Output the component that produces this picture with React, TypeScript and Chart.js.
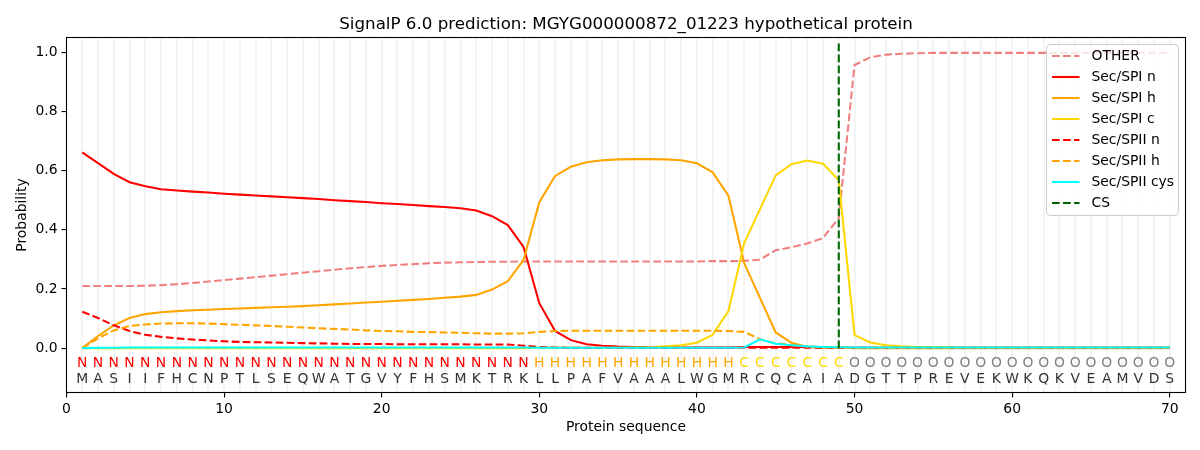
import { useEffect, useRef } from "react";
import { Chart, registerables } from "chart.js";
import type { ChartConfiguration, Plugin } from "chart.js";

Chart.register(...registerables);

// ====== SignalP 6.0 output, positions 1..70 ======
const TITLE = "SignalP 6.0 prediction: MGYG000000872_01223 hypothetical protein";
const SEQUENCE = "MASIIFHCNPTLSEQWATGVYFHSMKTRKLLPAFVAAALWGMRCQCAIADGTTPREVEKWKQKVEAMVDS".split("");
const REGIONS = "NNNNNNNNNNNNNNNNNNNNNNNNNNNNNHHHHHHHHHHHHHCCCCCCCOOOOOOOOOOOOOOOOOOOOO".split("");
const POSITIONS = SEQUENCE.map((_, i) => i + 1);

const OTHER = [
  0.21, 0.21, 0.21, 0.21, 0.211, 0.213, 0.216, 0.22, 0.225, 0.23,
  0.235, 0.24, 0.245, 0.25, 0.255, 0.26, 0.265, 0.27, 0.274, 0.278,
  0.281, 0.284, 0.287, 0.289, 0.29, 0.291, 0.292, 0.292, 0.293, 0.293,
  0.293, 0.293, 0.293, 0.293, 0.293, 0.293, 0.293, 0.293, 0.293, 0.293,
  0.294, 0.294, 0.295, 0.299, 0.331, 0.341, 0.354, 0.372, 0.44, 0.957,
  0.983, 0.992, 0.995, 0.997, 0.998, 0.998, 0.998, 0.998, 0.998, 0.998,
  0.998, 0.998, 0.998, 0.998, 0.998, 0.998, 0.998, 0.998, 0.998, 0.998,
];
const SPI_N = [
  0.662, 0.625, 0.589, 0.561, 0.547, 0.537, 0.533, 0.529, 0.526, 0.522,
  0.519, 0.516, 0.513, 0.51, 0.507, 0.504, 0.5, 0.497, 0.494, 0.49,
  0.487, 0.484, 0.48, 0.477, 0.473, 0.465, 0.446, 0.416, 0.342, 0.152,
  0.058, 0.027, 0.013, 0.008, 0.005, 0.004, 0.003, 0.002, 0.002, 0.002,
  0.002, 0.002, 0.004, 0.004, 0.004, 0.004, 0.004, 0.003, 0.002, 0.001,
  0.001, 0.001, 0.001, 0.001, 0.001, 0.001, 0.001, 0.001, 0.001, 0.001,
  0.001, 0.001, 0.001, 0.001, 0.001, 0.001, 0.001, 0.001, 0.001, 0.001,
];
const SPI_H = [
  0.0, 0.041, 0.077, 0.102, 0.115, 0.121, 0.125, 0.128, 0.13, 0.132,
  0.134, 0.136, 0.138, 0.14, 0.142, 0.145, 0.148, 0.151, 0.154, 0.157,
  0.16, 0.163, 0.166, 0.17, 0.174, 0.18, 0.198, 0.226, 0.298, 0.493,
  0.582, 0.613, 0.628, 0.635, 0.638, 0.639, 0.639, 0.638, 0.635, 0.625,
  0.594, 0.515, 0.287, 0.17, 0.053, 0.018, 0.005, 0.002, 0.001, 0.0,
  0.0, 0.0, 0.0, 0.0, 0.0, 0.0, 0.0, 0.0, 0.0, 0.0,
  0.0, 0.0, 0.0, 0.0, 0.0, 0.0, 0.0, 0.0, 0.0, 0.0,
];
const SPI_C = [
  0.0, 0.0, 0.0, 0.0, 0.0, 0.0, 0.0, 0.0, 0.0, 0.0,
  0.0, 0.0, 0.0, 0.0, 0.0, 0.0, 0.0, 0.0, 0.0, 0.0,
  0.0, 0.0, 0.0, 0.0, 0.0, 0.0, 0.0, 0.0, 0.0, 0.001,
  0.001, 0.001, 0.001, 0.001, 0.001, 0.002, 0.003, 0.006, 0.01, 0.018,
  0.045, 0.125, 0.355, 0.47, 0.584, 0.622, 0.634, 0.623, 0.568, 0.044,
  0.019, 0.01, 0.006, 0.004, 0.003, 0.002, 0.001, 0.001, 0.001, 0.001,
  0.001, 0.001, 0.001, 0.001, 0.001, 0.001, 0.001, 0.001, 0.001, 0.001,
];
const SPII_N = [
  0.123, 0.102, 0.077, 0.058, 0.045, 0.038, 0.033, 0.029, 0.026, 0.023,
  0.021, 0.02, 0.019, 0.018, 0.017, 0.016, 0.015, 0.014, 0.014, 0.014,
  0.013, 0.013, 0.013, 0.013, 0.013, 0.012, 0.012, 0.012, 0.008, 0.004,
  0.002, 0.001, 0.001, 0.001, 0.001, 0.001, 0.001, 0.001, 0.001, 0.001,
  0.001, 0.001, 0.001, 0.001, 0.001, 0.001, 0.001, 0.001, 0.001, 0.001,
  0.001, 0.001, 0.001, 0.001, 0.001, 0.001, 0.001, 0.001, 0.001, 0.001,
  0.001, 0.001, 0.001, 0.001, 0.001, 0.001, 0.001, 0.001, 0.001, 0.001,
];
const SPII_H = [
  0.0, 0.033, 0.06, 0.075, 0.08, 0.083, 0.084, 0.084, 0.083, 0.081,
  0.079, 0.077, 0.075, 0.072, 0.07, 0.067, 0.065, 0.063, 0.06, 0.058,
  0.057, 0.055, 0.054, 0.053, 0.052, 0.05, 0.049, 0.049, 0.05, 0.055,
  0.058, 0.059, 0.059, 0.059, 0.059, 0.059, 0.059, 0.059, 0.059, 0.059,
  0.059, 0.058, 0.055, 0.03, 0.016, 0.011, 0.006, 0.003, 0.002, 0.001,
  0.001, 0.001, 0.001, 0.001, 0.001, 0.001, 0.001, 0.001, 0.001, 0.001,
  0.001, 0.001, 0.001, 0.001, 0.001, 0.001, 0.001, 0.001, 0.001, 0.001,
];
const SPII_CYS = [
  0.0, 0.001, 0.001, 0.002, 0.002, 0.002, 0.002, 0.002, 0.002, 0.002,
  0.002, 0.002, 0.002, 0.002, 0.002, 0.002, 0.002, 0.002, 0.002, 0.002,
  0.002, 0.002, 0.002, 0.002, 0.002, 0.002, 0.002, 0.002, 0.002, 0.001,
  0.001, 0.001, 0.001, 0.001, 0.001, 0.001, 0.001, 0.001, 0.001, 0.001,
  0.001, 0.001, 0.002, 0.03, 0.015, 0.01, 0.006, 0.004, 0.003, 0.002,
  0.002, 0.002, 0.002, 0.002, 0.002, 0.002, 0.002, 0.002, 0.002, 0.002,
  0.002, 0.002, 0.002, 0.002, 0.002, 0.002, 0.002, 0.002, 0.002, 0.002,
];
const CS_POS = 49;
const CS_SPAN = [0, 1.035];

const X_TICKS = [0, 10, 20, 30, 40, 50, 60, 70];
const Y_TICKS = [0, 0.2, 0.4, 0.6, 0.8, 1.0];
const REGION_Y = -0.064; // baseline of N/H/C/O row
const SEQ_Y = -0.117;    // baseline of amino-acid row

const REGION_COLOR: Record<string, string> = { N: "#ff0000", H: "#ffa500", C: "#ffd700", O: "#808080" };
const FONT = "DejaVu Sans";
const DASH = [7.7, 3.3];

const SERIES = [
  { label: "OTHER", data: OTHER, color: "#f08080", dashed: true },
  { label: "Sec/SPI n", data: SPI_N, color: "#ff0000", dashed: false },
  { label: "Sec/SPI h", data: SPI_H, color: "#ffa500", dashed: false },
  { label: "Sec/SPI c", data: SPI_C, color: "#ffd700", dashed: false },
  { label: "Sec/SPII n", data: SPII_N, color: "#ff0000", dashed: true },
  { label: "Sec/SPII h", data: SPII_H, color: "#ffa500", dashed: true },
  { label: "Sec/SPII cys", data: SPII_CYS, color: "#00ffff", dashed: false },
];

const LEGEND = [
  ...SERIES.map((s) => ({ label: s.label, color: s.color, dashed: s.dashed })),
  { label: "CS", color: "#006400", dashed: true },
];

// grid, sequence letters, frame, title, axis titles and legend
const decor: Plugin<"line"> = {
  id: "decor",
  beforeDatasetsDraw(chart) {
    const { ctx, chartArea: a, scales } = chart;
    ctx.save();
    ctx.strokeStyle = "#f4f4f4";
    ctx.lineWidth = 2;
    for (const p of POSITIONS) {
      const px = Math.round(scales.x.getPixelForValue(p));
      ctx.beginPath();
      ctx.moveTo(px, a.top);
      ctx.lineTo(px, a.bottom);
      ctx.stroke();
    }
    ctx.restore();
  },
  afterDatasetsDraw(chart) {
    const { ctx, chartArea: a, scales } = chart;
    ctx.save();
    ctx.font = `13.9px "${FONT}"`;
    ctx.textAlign = "center";
    ctx.textBaseline = "alphabetic";
    const ry = scales.y.getPixelForValue(REGION_Y);
    const sy = scales.y.getPixelForValue(SEQ_Y);
    POSITIONS.forEach((p, i) => {
      const px = scales.x.getPixelForValue(p);
      ctx.fillStyle = REGION_COLOR[REGIONS[i]];
      ctx.fillText(REGIONS[i], px, ry);
      ctx.fillStyle = "#333333";
      ctx.fillText(SEQUENCE[i], px, sy);
    });

    // frame
    ctx.strokeStyle = "#000";
    ctx.lineWidth = 1.1;
    ctx.strokeRect(a.left, a.top, a.right - a.left, a.bottom - a.top);

    // title + axis titles
    ctx.fillStyle = "#000";
    const cx = (a.left + a.right) / 2;
    ctx.font = `16.7px "${FONT}"`;
    ctx.fillText(TITLE, cx, a.top - 8.3);
    ctx.font = `13.9px "${FONT}"`;
    ctx.textBaseline = "middle";
    ctx.fillText("Protein sequence", cx, 427);
    ctx.save();
    ctx.translate(22, (a.top + a.bottom) / 2);
    ctx.rotate(-Math.PI / 2);
    ctx.fillText("Probability", 0, 0);
    ctx.restore();

    // legend
    const bw = 132, bh = 171;
    const bx = a.right - 7 - bw, by = a.top + 7;
    ctx.beginPath();
    ctx.roundRect(bx, by, bw, bh, 4);
    ctx.fillStyle = "rgba(255,255,255,0.8)";
    ctx.fill();
    ctx.strokeStyle = "#cccccc";
    ctx.lineWidth = 1;
    ctx.stroke();
    ctx.textAlign = "left";
    LEGEND.forEach((item, i) => {
      const yy = by + 11.5 + i * 21;
      ctx.beginPath();
      ctx.setLineDash(item.dashed ? DASH : []);
      ctx.strokeStyle = item.color;
      ctx.lineWidth = 2.08;
      ctx.moveTo(bx + 5.5, yy);
      ctx.lineTo(bx + 33, yy);
      ctx.stroke();
      ctx.setLineDash([]);
      ctx.fillStyle = "#000";
      ctx.fillText(item.label, bx + 45, yy);
    });
    ctx.restore();
  },
};

export default function App() {
  const canvasRef = useRef<HTMLCanvasElement | null>(null);

  useEffect(() => {
    const ctx = canvasRef.current!.getContext("2d")!;

    const datasets: any[] = SERIES.map((s, i) => ({
      label: s.label,
      data: s.data.map((v, j) => ({ x: POSITIONS[j], y: v })),
      borderColor: s.color,
      backgroundColor: s.color,
      borderWidth: 2.08,
      borderDash: s.dashed ? DASH : [],
      pointRadius: 0,
      tension: 0,
      order: -i,
    }));
    datasets.push({
      label: "CS",
      data: CS_SPAN.map((v) => ({ x: CS_POS, y: v })),
      borderColor: "#006400",
      borderWidth: 2.08,
      borderDash: DASH,
      pointRadius: 0,
      order: -SERIES.length,
    });

    const tickFont = { family: FONT, size: 13.9 };

    const config: ChartConfiguration<"line"> = {
      type: "line",
      data: { datasets },
      plugins: [decor],
      options: {
        responsive: false,
        animation: false,
        layout: { padding: { top: 37.5, right: 14.5, left: 0, bottom: 0 } },
        plugins: { legend: { display: false }, tooltip: { enabled: false }, title: { display: false } },
        scales: {
          x: {
            type: "linear",
            min: 0,
            max: 71,
            afterBuildTicks: (scale) => { scale.ticks = X_TICKS.map((value) => ({ value })); },
            afterFit: (scale) => { scale.height = 57.5; },
            ticks: { color: "#000", font: tickFont, padding: 4, maxRotation: 0, autoSkip: false },
            grid: { drawOnChartArea: false, drawTicks: true, tickLength: 5, color: "#000", lineWidth: 1.1 },
            border: { display: false },
          },
          y: {
            type: "linear",
            min: -0.15,
            max: 1.05,
            afterBuildTicks: (scale) => { scale.ticks = Y_TICKS.map((value) => ({ value })); },
            afterFit: (scale) => { scale.width = 66.5; },
            ticks: {
              color: "#000",
              font: tickFont,
              padding: 4,
              callback: (v) => Number(v).toFixed(1),
            },
            grid: { drawOnChartArea: false, drawTicks: true, tickLength: 5, color: "#000", lineWidth: 1.1 },
            border: { display: false },
          },
        },
      },
    };

    const chart = new Chart(ctx, config);
    return () => chart.destroy();
  }, []);

  return (
    <div style={{ position: "absolute", left: 0, top: 0, width: 1200, height: 450, background: "#fff" }}>
      <canvas ref={canvasRef} width={1200} height={450} />
    </div>
  );
}
